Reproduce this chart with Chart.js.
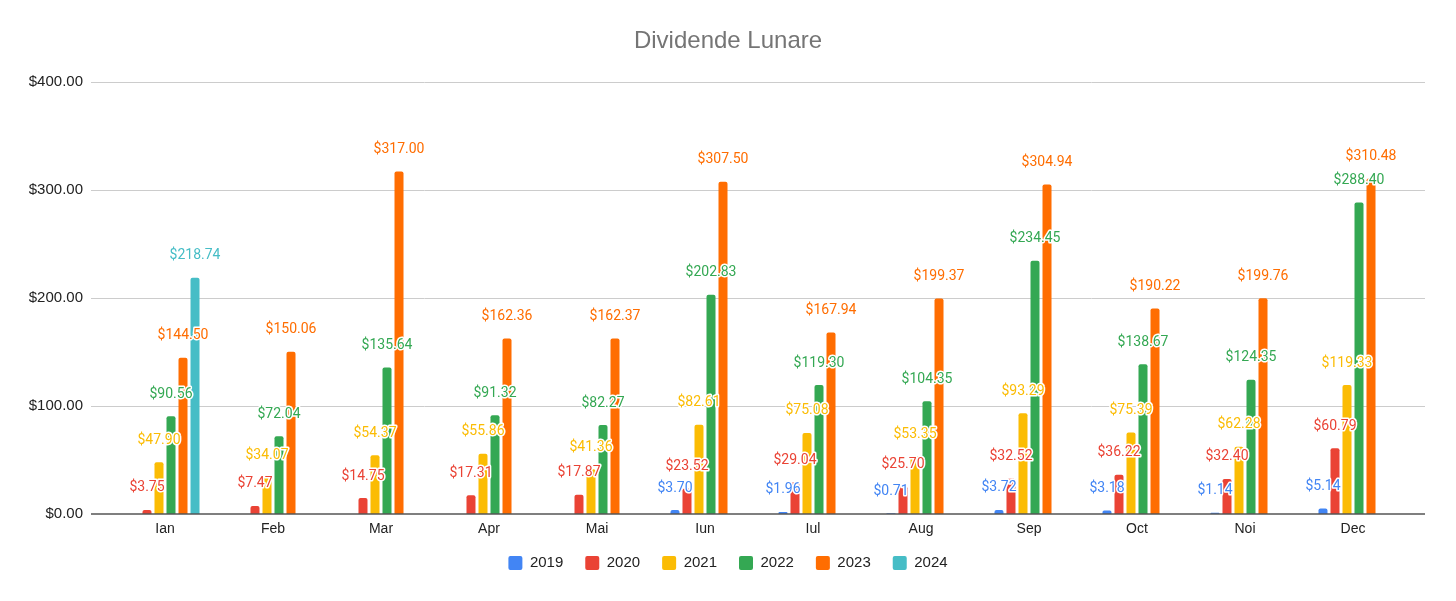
<!DOCTYPE html>
<html>
<head>
<meta charset="utf-8">
<script src="https://cdn.jsdelivr.net/npm/chart.js@4.4.1/dist/chart.umd.min.js"></script>
<style>
  html, body { margin: 0; padding: 0; background: #fff; }
  #wrap { width: 1456px; height: 601px; }
</style>
</head>
<body>
<div id="wrap"><canvas id="myChart"></canvas></div>
<script>
const months = ['Ian', 'Feb', 'Mar', 'Apr', 'Mai', 'Iun', 'Iul', 'Aug', 'Sep', 'Oct', 'Noi', 'Dec'];
const years = ['2019', '2020', '2021', '2022', '2023', '2024'];
const colors = ['#4285F4', '#EA4335', '#FBBC04', '#34A853', '#FF6D01', '#46BDC6'];

const v2019 = [null, null, null, null, null, 3.70, 1.96, 0.71, 3.72, 3.18, 1.14, 5.14];
const v2020 = [3.75, 7.47, 14.75, 17.31, 17.87, 23.52, 29.04, 25.70, 32.52, 36.22, 32.40, 60.79];
const v2021 = [47.90, 34.07, 54.37, 55.86, 41.36, 82.61, 75.08, 53.35, 93.29, 75.39, 62.28, 119.33];
const v2022 = [90.56, 72.04, 135.64, 91.32, 82.27, 202.83, 119.30, 104.35, 234.45, 138.67, 124.35, 288.40];
const v2023 = [144.50, 150.06, 317.00, 162.36, 162.37, 307.50, 167.94, 199.37, 304.94, 190.22, 199.76, 310.48];
const v2024 = [218.74, null, null, null, null, null, null, null, null, null, null, null];

const yTicks = [0, 100, 200, 300, 400];

const series = [v2019, v2020, v2021, v2022, v2023, v2024];

const money = v => '$' + v.toFixed(2);

// grid lines run a bit past the plot area, like the sheet chart
const gridPlugin = {
    id: 'sheetGrid',
    afterLayout(chart) {
        // pull the legend up a little, the x labels need their full box
        const lg = chart.legend;
        if (lg) {
            lg.top = 533.5;
            lg.bottom = lg.top + lg.height;
        }
    },
    beforeDatasetsDraw(chart) {
        const ctx = chart.ctx;
        const y = chart.scales.y;
        ctx.save();
        ctx.strokeStyle = '#cccccc';
        ctx.lineWidth = 1;
        yTicks.forEach(t => {
            if (t === 0) return;
            const py = Math.round(y.getPixelForValue(t)) + 0.5;
            ctx.beginPath();
            ctx.moveTo(91, py);
            ctx.lineTo(1425, py);
            ctx.stroke();
        });
        ctx.restore();
    },
    afterDatasetsDraw(chart) {
        const ctx = chart.ctx;
        const y = chart.scales.y;
        ctx.save();
        ctx.strokeStyle = '#555555';
        ctx.lineWidth = 1.5;
        const py = y.getPixelForValue(0);
        ctx.beginPath();
        ctx.moveTo(91, py);
        ctx.lineTo(1425, py);
        ctx.stroke();

        // value labels above each bar
        ctx.font = '14px Roboto';
        ctx.textAlign = 'center';
        ctx.textBaseline = 'middle';
        ctx.lineJoin = 'round';
        chart.data.datasets.forEach((ds, di) => {
            const meta = chart.getDatasetMeta(di);
            meta.data.forEach((bar, i) => {
                const v = ds.data[i];
                if (v === null || v === undefined) return;
                const ty = y.getPixelForValue(v) - 22;
                const txt = money(v);
                ctx.strokeStyle = '#ffffff';
                ctx.lineWidth = 3;
                ctx.strokeText(txt, bar.x, ty);
                ctx.fillStyle = ds.backgroundColor;
                ctx.fillText(txt, bar.x, ty);
            });
        });
        ctx.restore();
    }
};

const chart = new Chart(document.getElementById('myChart').getContext('2d'), {
    type: 'bar',
    data: {
        labels: months,
        datasets: years.map((yr, i) => ({
            label: yr,
            data: series[i],
            backgroundColor: colors[i],
            borderRadius: 2,
            borderSkipped: 'start',
            categoryPercentage: 0.667,
            barPercentage: 0.75
        }))
    },
    options: {
        responsive: true,
        maintainAspectRatio: false,
        animation: false,
        layout: {
            padding: { left: 0, right: 0, top: 0, bottom: 10 }
        },
        plugins: {
            title: {
                display: true,
                text: 'Dividende Lunare',
                color: '#757575',
                font: { family: 'Liberation Sans, Arial', size: 24, weight: 'normal' },
                padding: { top: 27, bottom: 26 }
            },
            legend: {
                position: 'bottom',
                labels: {
                    boxWidth: 14,
                    boxHeight: 14,
                    padding: 22,
                    color: '#222222',
                    font: { family: 'Liberation Sans, Arial', size: 15 },
                    useBorderRadius: true,
                    borderRadius: 2
                }
            },
            tooltip: { enabled: false }
        },
        scales: {
            x: {
                grid: { display: false, drawTicks: false },
                border: { display: false },
                ticks: {
                    color: '#222222',
                    padding: 7,
                    font: { family: 'Liberation Sans, Arial', size: 14 }
                },
                afterFit(scale) { scale.height = 30; }
            },
            y: {
                min: 0,
                max: 400,
                grid: { display: false, drawTicks: false },
                border: { display: false },
                afterBuildTicks(scale) {
                    scale.ticks = yTicks.map(v => ({ value: v }));
                },
                ticks: {
                    color: '#222222',
                    padding: 28,
                    font: { family: 'Liberation Sans, Arial', size: 15 },
                    callback: v => money(v)
                },
                afterFit(scale) { scale.width = 111; }
            },
            // empty right axis, only keeps a margin so title and legend stay centred
            yRight: {
                position: 'right',
                min: 0,
                max: 400,
                grid: { display: false, drawTicks: false },
                border: { display: false },
                ticks: { display: false },
                afterFit(scale) { scale.width = 49; }
            }
        }
    },
    plugins: [gridPlugin]
});
</script>
</body>
</html>
